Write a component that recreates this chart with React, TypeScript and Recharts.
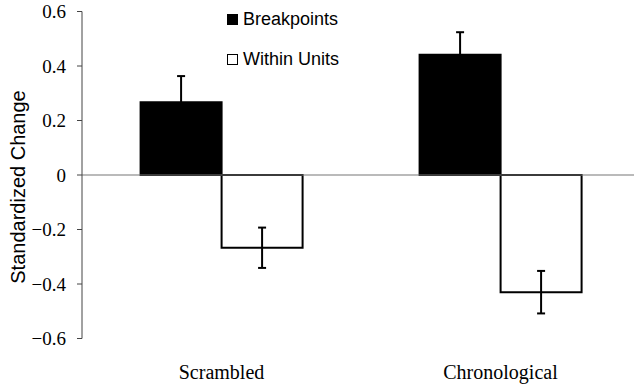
import React from 'react';
import { BarChart, Bar, XAxis, YAxis, ReferenceLine, ErrorBar, Legend } from 'recharts';

const categories = ['Scrambled', 'Chronological'];
const seriesNames = ['Breakpoints', 'Within Units'];
const breakpoints = [0.267, 0.441];
const breakpointsErr = [0.096, 0.083];
const withinUnits = [-0.267, -0.43];
const withinUnitsErr = [0.074, 0.078];
const yTicks = [-0.6, -0.4, -0.2, 0, 0.2, 0.4, 0.6];

const data = categories.map((c, i) => ({
  category: c,
  bp: breakpoints[i],
  bpErr: breakpointsErr[i],
  wu: withinUnits[i],
  wuErr: withinUnitsErr[i],
}));

const SERIF = '"Liberation Serif", "Times New Roman", serif';
const SANS = '"Liberation Sans", Arial, sans-serif';

const fmt = (v: number) => (v === 0 ? '0' : (v < 0 ? '\u2212' : '') + Math.abs(v).toFixed(1));

const YTick = (props: any) => {
  const { x, y, payload } = props;
  return (
    <text x={x} y={y} dy={6.5} textAnchor="end" fontFamily={SERIF} fontSize={19} fill="#000">
      {fmt(payload.value)}
    </text>
  );
};

const XTick = (props: any) => {
  const { x, y, payload } = props;
  return (
    <text x={x} y={y} dy={14} textAnchor="middle" fontFamily={SERIF} fontSize={20} fill="#000">
      {payload.value}
    </text>
  );
};

const LegendContent = () => (
  <div style={{ fontFamily: SANS, fontSize: 18, color: '#000' }}>
    {seriesNames.map((n, i) => (
      <div key={n} style={{ display: 'flex', alignItems: 'center', height: 20, marginBottom: i === 0 ? 20 : 0 }}>
        <span
          style={{
            display: 'inline-block',
            width: 11,
            height: 11,
            boxSizing: 'border-box',
            background: i === 0 ? '#000' : '#fff',
            border: '1.5px solid #000',
            marginRight: 5,
          }}
        />
        <span>{n}</span>
      </div>
    ))}
  </div>
);

export default function App() {
  return (
    <div style={{ position: 'absolute', left: 0, top: 0, width: 634, height: 385, overflow: 'hidden', background: '#fff' }}>
      <BarChart
        width={640}
        height={385}
        data={data}
        margin={{ top: 11.5, right: 0, bottom: 6.5, left: 0 }}
        barCategoryGap="21%"
        barGap={0}
      >
        <XAxis
          dataKey="category"
          axisLine={false}
          tickLine={false}
          height={40}
          tickMargin={20}
          tick={<XTick />}
        />
        <XAxis xAxisId="num" type="number" domain={[0, 2]} hide />
        <YAxis
          domain={[-0.6, 0.6]}
          ticks={yTicks}
          width={82}
          stroke="#444"
          tickSize={5}
          tickMargin={11}
          tick={<YTick />}
          label={{
            value: 'Standardized Change',
            angle: -90,
            position: 'center',
            dx: -23.5,
            dy: 12,
            style: { fontFamily: SANS, fontSize: 20, fill: '#000' },
          }}
        />
        <ReferenceLine y={0} stroke="#777" strokeWidth={1.2} />
        <ReferenceLine
          xAxisId="num"
          segment={[{ x: 1, y: 0 }, { x: 1, y: -0.022 }]}
          stroke="#777"
          strokeWidth={1.2}
        />
        <Legend
          layout="horizontal"
          verticalAlign="middle"
          align="center"
          content={<LegendContent />}
          wrapperStyle={{ position: 'absolute', left: 227, top: 9, width: 'auto', height: 'auto' }}
        />
        <Bar dataKey="bp" name={seriesNames[0]} fill="#000" stroke="#000" strokeWidth={2} isAnimationActive={false}>
          <ErrorBar dataKey="bpErr" width={4} stroke="#000" strokeWidth={2} direction="y" />
        </Bar>
        <Bar dataKey="wu" name={seriesNames[1]} fill="#fff" stroke="#000" strokeWidth={2} isAnimationActive={false}>
          <ErrorBar dataKey="wuErr" width={4} stroke="#000" strokeWidth={2} direction="y" />
        </Bar>
      </BarChart>
    </div>
  );
}
